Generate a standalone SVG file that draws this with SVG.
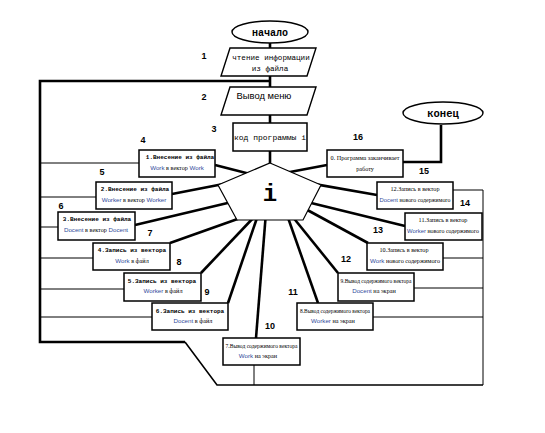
<svg xmlns="http://www.w3.org/2000/svg" width="545" height="433" viewBox="0 0 545 433">
<style>
.shape{fill:#fff;stroke:#000;stroke-width:1.4}
.box{fill:#fff;stroke:#000;stroke-width:1.5}
.c{stroke:#000;stroke-width:2.6;fill:none;stroke-linecap:butt}
.t{stroke:#000;stroke-width:1;fill:none}
.m{stroke:#000;stroke-width:1.6;fill:none}
.num{font-family:"Liberation Sans",Arial,sans-serif;font-size:9px;font-weight:bold;text-anchor:middle}
.mono{font-family:"Liberation Mono","Courier New",monospace}
.serif{font-family:"Liberation Serif","Times New Roman",serif}
.bx1{font-family:"Liberation Mono","Courier New",monospace;font-size:6px;font-weight:bold;text-anchor:middle}
.bx2{font-family:"Liberation Serif","Times New Roman",serif;font-size:6.2px;text-anchor:middle}
.w{font-family:"Liberation Sans",Arial,sans-serif;fill:#2f4a9a}
</style>
<rect width="545" height="433" fill="#fff"/>
<g id="connectors">
  <line class="c" x1="270" y1="43" x2="270" y2="48"/>
  <line class="c" x1="270" y1="76" x2="270" y2="87"/>
  <line class="c" x1="270" y1="115" x2="270" y2="123"/>
  <line class="c" x1="270" y1="151" x2="270" y2="165"/>
  <polyline class="c" points="270,81 40,81 40,342 185,342"/>
  <polyline class="m" points="185,342 217,385 483,385"/>
  <line class="t" x1="483" y1="190" x2="483" y2="385"/>
  <line class="t" x1="254" y1="365" x2="254" y2="385"/>
  <line class="t" x1="40" y1="163" x2="139" y2="163"/>
  <line class="t" x1="40" y1="197" x2="96" y2="197"/>
  <line class="t" x1="40" y1="227" x2="58" y2="227"/>
  <line class="t" x1="40" y1="258" x2="93" y2="258"/>
  <line class="t" x1="40" y1="289" x2="124" y2="289"/>
  <line class="t" x1="40" y1="317" x2="152" y2="317"/>
  <line class="t" x1="453" y1="190" x2="483" y2="190"/>
  <line class="t" x1="443" y1="258" x2="483" y2="258"/>
  <line class="t" x1="414" y1="288" x2="483" y2="288"/>
  <line class="t" x1="373" y1="317" x2="483" y2="317"/>
  <polyline class="c" points="403,162 441,162 441,125"/>
  <line class="c" x1="215" y1="165" x2="254" y2="175"/>
  <line class="c" x1="172" y1="194" x2="226" y2="183.5"/>
  <line class="c" x1="135" y1="225" x2="236" y2="201"/>
  <line class="c" x1="170" y1="243" x2="246" y2="216"/>
  <line class="c" x1="201" y1="273" x2="256" y2="215"/>
  <line class="c" x1="228" y1="303" x2="259" y2="212"/>
  <line class="c" x1="256" y1="338" x2="266" y2="212"/>
  <line class="c" x1="318" y1="303" x2="286" y2="212"/>
  <line class="c" x1="338" y1="273" x2="292" y2="216"/>
  <line class="c" x1="368" y1="243" x2="300" y2="206"/>
  <line class="c" x1="405" y1="226" x2="303" y2="201"/>
  <line class="c" x1="377" y1="195" x2="312" y2="183.6"/>
  <line class="c" x1="327" y1="165" x2="282" y2="173.5"/>
</g>
<g id="start">
  <ellipse class="shape" cx="270" cy="32" rx="38" ry="11"/>
  <text class="mono" x="270" y="35.5" font-size="10" font-weight="bold" text-anchor="middle">начало</text>
</g>
<g id="read">
  <polygon class="shape" points="230,48 316,48 307,76 221,76"/>
  <text class="mono" x="271" y="60" font-size="7.6" text-anchor="middle">чтение информации</text>
  <text class="mono" x="270" y="71" font-size="7.6" text-anchor="middle">из файла</text>
</g>
<g id="menu">
  <polygon class="shape" points="230,87 316,87 307,115 221,115"/>
  <text x="264" y="99" font-family="Liberation Sans, Arial, sans-serif" font-size="9.4" text-anchor="middle">Вывод меню</text>
</g>
<g id="code">
  <rect class="box" x="233" y="123" width="74" height="28"/>
  <text class="mono" x="270" y="140" font-size="8" text-anchor="middle">код программы i</text>
</g>
<g id="switch">
  <polygon fill="#fff" stroke="#000" stroke-width="1.2" points="270,163 321,185 303,220 237,220 218,185"/>
  <text class="mono" x="270" y="201" font-size="24" font-weight="bold" text-anchor="middle">i</text>
</g>
<g id="end">
  <ellipse class="shape" cx="443" cy="113" rx="40" ry="11"/>
  <text class="mono" x="443" y="117" font-size="10.5" font-weight="bold" text-anchor="middle">конец</text>
</g>
<g id="b1">
  <rect class="box" x="139" y="150" width="76" height="27"/>
  <text class="bx1" x="180" y="159">1.Внесение из файла</text>
  <text class="bx2" x="177" y="170"><tspan class="w">Work</tspan>  в вектор <tspan class="w">Work</tspan></text>
</g>
<g id="b2">
  <rect class="box" x="96" y="182" width="76" height="27"/>
  <text class="bx1" x="135" y="191">2.Внесение из файла</text>
  <text class="bx2" x="134" y="202"><tspan class="w">Worker</tspan> в вектор <tspan class="w">Worker</tspan></text>
</g>
<g id="b3">
  <rect class="box" x="58" y="212" width="77" height="28"/>
  <text class="bx1" x="97" y="221">3.Внесение из файла</text>
  <text class="bx2" x="96" y="232"><tspan class="w">Docent</tspan> в вектор <tspan class="w">Docent</tspan></text>
</g>
<g id="b4">
  <rect class="box" x="93" y="243" width="77" height="27"/>
  <text class="bx1" x="132" y="252">4.Запись из вектора</text>
  <text class="bx2" x="132" y="263"><tspan class="w">Work</tspan>    в файл</text>
</g>
<g id="b5">
  <rect class="box" x="124" y="273" width="77" height="28"/>
  <text class="bx1" x="162" y="283">5.Запись из вектора</text>
  <text class="bx2" x="163" y="293"><tspan class="w">Worker</tspan>  в файл</text>
</g>
<g id="b6">
  <rect class="box" x="152" y="303" width="76" height="27"/>
  <text class="bx1" x="190" y="313">6.Запись из вектора</text>
  <text class="bx2" x="193" y="323"><tspan class="w">Docent</tspan>  в файл</text>
</g>
<g id="b7">
  <rect class="box" x="223" y="338" width="77" height="27"/>
  <text class="bx2" x="261.5" y="348" textLength="72" lengthAdjust="spacingAndGlyphs">7.Вывод содержимого вектора</text>
  <text class="bx2" x="258" y="358"><tspan class="w">Work</tspan>    на экран</text>
</g>
<g id="b8">
  <rect class="box" x="297" y="303" width="76" height="27"/>
  <text class="bx2" x="335" y="313" textLength="70" lengthAdjust="spacingAndGlyphs">8.Вывод содержимого вектора</text>
  <text class="bx2" x="333" y="323"><tspan class="w">Worker</tspan> на экран</text>
</g>
<g id="b9">
  <rect class="box" x="338" y="273" width="76" height="28"/>
  <text class="bx2" x="376" y="283" textLength="71" lengthAdjust="spacingAndGlyphs">9.Вывод содержимого вектора</text>
  <text class="bx2" x="374" y="293"><tspan class="w">Docent</tspan>   на экран</text>
</g>
<g id="b10">
  <rect class="box" x="367" y="243" width="76" height="27"/>
  <text class="bx2" x="404" y="252">10.Запись в вектор</text>
  <text class="bx2" x="405" y="263" textLength="70" lengthAdjust="spacingAndGlyphs"><tspan class="w">Work</tspan>  нового содержимого</text>
</g>
<g id="b11">
  <rect class="box" x="405" y="213" width="77" height="27"/>
  <text class="bx2" x="443" y="222">11.Запись в вектор</text>
  <text class="bx2" x="443" y="233" textLength="72" lengthAdjust="spacingAndGlyphs"><tspan class="w">Worker</tspan> нового содержимого</text>
</g>
<g id="b12">
  <rect class="box" x="377" y="182" width="76" height="27"/>
  <text class="bx2" x="415" y="191">12.Запись в вектор</text>
  <text class="bx2" x="415" y="202" textLength="71" lengthAdjust="spacingAndGlyphs"><tspan class="w">Docent</tspan> нового содержимого</text>
</g>
<g id="b0">
  <rect class="box" x="327" y="150" width="76" height="27"/>
  <text class="bx2" x="365" y="160" font-size="6.4">0. Программа заканчивает</text>
  <text class="bx2" x="365" y="171" font-size="6.4">работу</text>
</g>
<g id="labels">
  <text class="num" x="204" y="59">1</text>
  <text class="num" x="204" y="100">2</text>
  <text class="num" x="214" y="132">3</text>
  <text class="num" x="143" y="143">4</text>
  <text class="num" x="358" y="140">16</text>
  <text class="num" x="102" y="175">5</text>
  <text class="num" x="61" y="209">6</text>
  <text class="num" x="150" y="236">7</text>
  <text class="num" x="179" y="265">8</text>
  <text class="num" x="207" y="295">9</text>
  <text class="num" x="270" y="329">10</text>
  <text class="num" x="293" y="295">11</text>
  <text class="num" x="346" y="262">12</text>
  <text class="num" x="378" y="233">13</text>
  <text class="num" x="465" y="206">14</text>
  <text class="num" x="424" y="174">15</text>
</g>
</svg>
